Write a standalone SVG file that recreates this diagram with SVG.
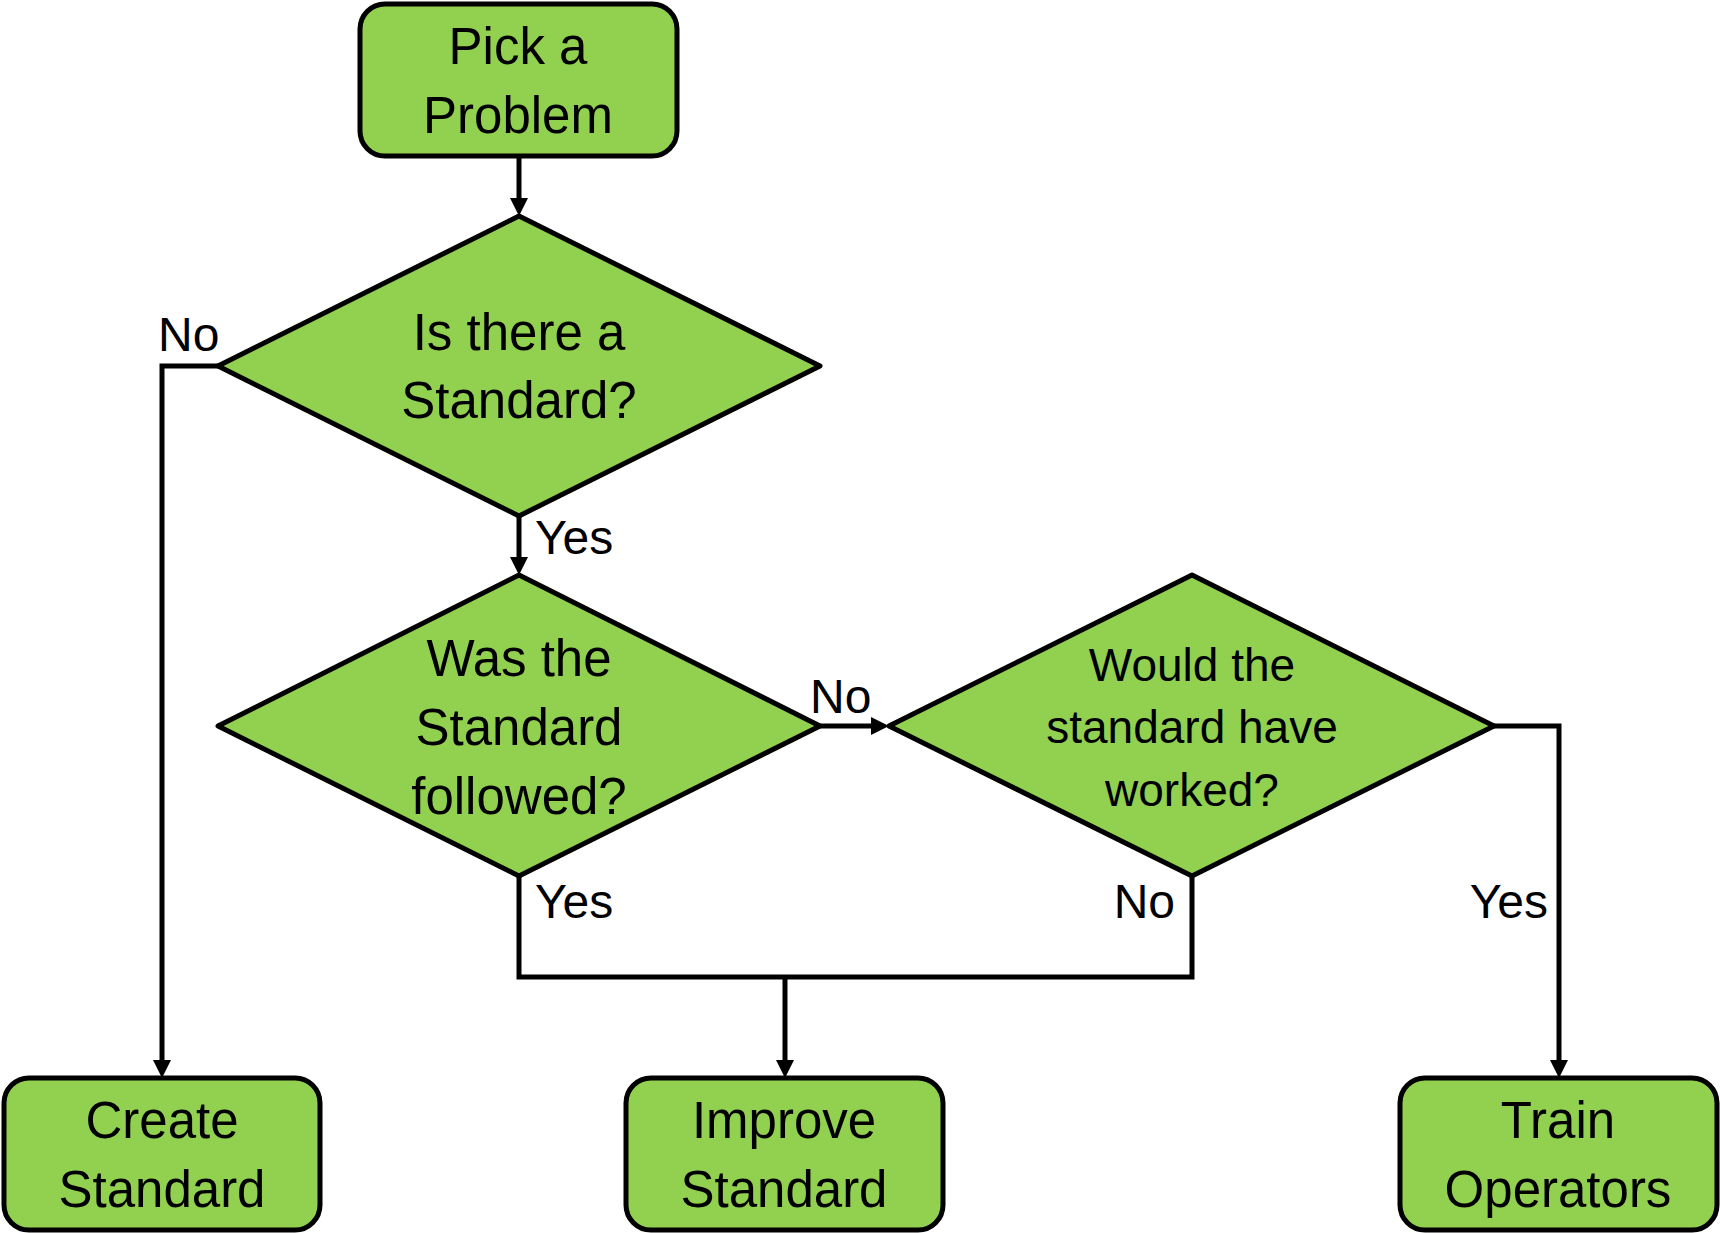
<svg xmlns="http://www.w3.org/2000/svg" width="1720" height="1233" viewBox="0 0 1720 1233">
<style>
.node{fill:#92D050;stroke:#000;stroke-width:5;stroke-linejoin:round}
.t{font-family:"Liberation Sans",Arial,sans-serif;font-size:51px;fill:#000;text-anchor:middle}
.t3{font-family:"Liberation Sans",Arial,sans-serif;font-size:46px;fill:#000;text-anchor:middle}
.lbl{font-family:"Liberation Sans",Arial,sans-serif;font-size:48px;fill:#000}
.c{fill:none;stroke:#000;stroke-width:5;stroke-linejoin:miter}
</style>
<defs>
<marker id="arr" markerUnits="userSpaceOnUse" markerWidth="18" markerHeight="18" viewBox="0 0 18 18" refX="9" refY="9" orient="auto">
<path d="M0,0 L18,9 L0,18 z" fill="#000"/>
</marker>
</defs>
<rect width="1720" height="1233" fill="#fff"/>
<g id="pick">
<rect class="node" x="360" y="4" width="317" height="152" rx="25"/>
<text class="t" x="518" y="64">Pick a</text>
<text class="t" x="518" y="133">Problem</text>
</g>
<g id="d1">
<polygon class="node" points="519,216 820,366 519,516 218,366"/>
<text class="t" x="519" y="350">Is there a</text>
<text class="t" x="519" y="418">Standard?</text>
</g>
<g id="d2">
<polygon class="node" points="519,575 820,726 519,876 218,726"/>
<text class="t" x="519" y="676">Was the</text>
<text class="t" x="519" y="745">Standard</text>
<text class="t" x="519" y="814">followed?</text>
</g>
<g id="d3">
<polygon class="node" points="1192,575 1494,726 1192,876 889,726"/>
<text class="t3" x="1192" y="681">Would the</text>
<text class="t3" x="1192" y="743">standard have</text>
<text class="t3" x="1192" y="806">worked?</text>
</g>
<g id="create">
<rect class="node" x="4" y="1078" width="316" height="152" rx="25"/>
<text class="t" x="162" y="1138">Create</text>
<text class="t" x="162" y="1207">Standard</text>
</g>
<g id="improve">
<rect class="node" x="626" y="1078" width="317" height="152" rx="25"/>
<text class="t" x="784" y="1138">Improve</text>
<text class="t" x="784" y="1207">Standard</text>
</g>
<g id="train">
<rect class="node" x="1400" y="1078" width="317" height="152" rx="25"/>
<text class="t" x="1558" y="1138">Train</text>
<text class="t" x="1558" y="1207">Operators</text>
</g>
<g id="connectors">
<line class="c" x1="519" y1="157" x2="519" y2="207" marker-end="url(#arr)"/>
<polyline class="c" points="218,366 162,366 162,1069" marker-end="url(#arr)"/>
<line class="c" x1="519" y1="516" x2="519" y2="566" marker-end="url(#arr)"/>
<line class="c" x1="820" y1="726" x2="880" y2="726" marker-end="url(#arr)"/>
<polyline class="c" points="519,876 519,977 1192,977 1192,876"/>
<line class="c" x1="785" y1="977" x2="785" y2="1069" marker-end="url(#arr)"/>
<polyline class="c" points="1494,726 1559,726 1559,1069" marker-end="url(#arr)"/>
<text class="lbl" x="158" y="351">No</text>
<text class="lbl" x="535" y="554">Yes</text>
<text class="lbl" x="810" y="713">No</text>
<text class="lbl" x="535" y="918">Yes</text>
<text class="lbl" x="1175" y="918" text-anchor="end">No</text>
<text class="lbl" x="1548" y="918" text-anchor="end">Yes</text>
</g>
</svg>
